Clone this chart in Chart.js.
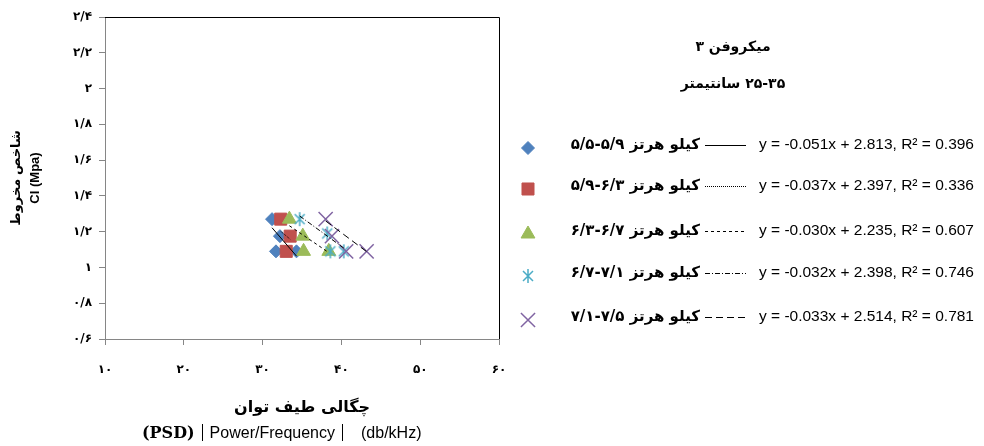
<!DOCTYPE html>
<html>
<head>
<meta charset="utf-8">
<script src="https://cdn.jsdelivr.net/npm/chart.js@4.4.0/dist/chart.umd.min.js"></script>
<style>
    body { margin: 0; background: #fff; }
    #wrap { position: relative; width: 984px; height: 446px; overflow: hidden; }
    #chart { position: absolute; left: 0; top: 0; }
    .fa { position: absolute; font-family: "DejaVu Sans"; font-weight: bold; color: #000; white-space: nowrap; direction: rtl; }
    .head { font-size: 14px; text-align: center; width: 200px; left: 633px; }
    .name { font-size: 15px; right: 284px; }
    .eq { position: absolute; left: 759px; font-family: "Liberation Sans"; font-size: 15.5px; color: #000; white-space: nowrap; }
    .xt1 { position: absolute; left: 102px; width: 400px; text-align: center; top: 397px; font-family: "DejaVu Sans"; font-weight: bold; font-size: 16px; direction: rtl; color: #000; white-space: nowrap; }
    .xt2 { position: absolute; left: 142px; top: 423px; font-family: "Liberation Sans"; font-size: 16px; color: #000; white-space: nowrap; }
    .xt2 b { font-family: "DejaVu Serif"; font-size: 16px; }
    .bar { display: inline-block; width: 1px; height: 17px; background: #000; vertical-align: -3px; margin: 0 7px; }
</style>
</head>
<body>
<div id="wrap">
    <canvas id="chart" width="984" height="446"></canvas>
    <div class="fa head" style="top:38px">میکروفن ۳</div>
    <div class="fa head" style="top:75px">۲۵-۳۵ سانتیمتر</div>
    <div class="xt1">چگالی طیف توان</div>
    <div class="xt2"><b>(PSD)</b><span class="bar"></span>Power/Frequency<span class="bar" style="margin-right:18px"></span>(db/kHz)</div>
    <div id="legendText"></div>
</div>
<script>
// بازه‌های فرکانسی (کیلو هرتز)
var rangeLabels = ['۵/۵-۵/۹', '۵/۹-۶/۳', '۶/۳-۶/۷', '۶/۷-۷/۱', '۷/۱-۷/۵'];

// چگالی طیف توان (db/kHz) و شاخص مخروط (Mpa) برای هر بازه
var psd1 = [31.2, 32.2, 31.7, 34.3];
var ci1 = [1.27, 1.175, 1.09, 1.09];
var psd2 = [32.3, 33.5, 33.0];
var ci2 = [1.27, 1.175, 1.09];
var psd3 = [33.4, 35.1, 35.2, 38.4];
var ci3 = [1.27, 1.175, 1.09, 1.09];
var psd4 = [34.7, 38.2, 38.6, 40.3];
var ci4 = [1.27, 1.19, 1.09, 1.09];
var psd5 = [38.0, 38.8, 40.6, 43.2];
var ci5 = [1.27, 1.175, 1.09, 1.09];

// خط روند خطی هر سری
var slopes = [-0.051, -0.037, -0.030, -0.032, -0.033];
var intercepts = [2.813, 2.397, 2.235, 2.398, 2.514];
var rSquared = [0.396, 0.336, 0.607, 0.746, 0.781];

var xTickLabels = ['۱۰', '۲۰', '۳۰', '۴۰', '۵۰', '۶۰'];
var yTickLabels = ['۰/۶', '۰/۸', '۱', '۱/۲', '۱/۴', '۱/۶', '۱/۸', '۲', '۲/۲', '۲/۴'];

var colors = ['#4F81BD', '#C0504D', '#9BBB59', '#4BACC6', '#8064A2'];
var dashes = [[], [1, 1], [3, 3], [5, 2, 1, 2], [7, 4]];
var legendY = [148, 189, 234, 276, 320];

// ستاره‌ی شش‌پر (علامت اکسل)
function asterisk(color) {
    var c = document.createElement('canvas');
    c.width = 16; c.height = 16;
    var g = c.getContext('2d');
    g.strokeStyle = color;
    g.lineWidth = 1.5;
    g.beginPath();
    g.moveTo(8, 1); g.lineTo(8, 15);
    g.moveTo(3, 3); g.lineTo(13, 13);
    g.moveTo(13, 3); g.lineTo(3, 13);
    g.stroke();
    return c;
}

var markers = [
    { pointStyle: 'rectRot', radius: 6.5 },
    { pointStyle: 'rect', radius: 8.5 },
    { pointStyle: 'triangle', radius: 8 },
    { pointStyle: asterisk(colors[3]), radius: 7 },
    { pointStyle: 'crossRot', radius: 10, borderWidth: 1.5 }
];

function points(xs, ys) {
    return xs.map(function (x, i) { return { x: x, y: ys[i] }; });
}

function trend(k, xs) {
    var lo = Math.min.apply(null, xs), hi = Math.max.apply(null, xs);
    return [
        { x: lo, y: slopes[k] * lo + intercepts[k] },
        { x: hi, y: slopes[k] * hi + intercepts[k] }
    ];
}

var series = [[psd1, ci1], [psd2, ci2], [psd3, ci3], [psd4, ci4], [psd5, ci5]];
var datasets = [];

series.forEach(function (s, k) {
    datasets.push({
        data: points(s[0], s[1]),
        pointStyle: markers[k].pointStyle,
        pointRadius: markers[k].radius,
        backgroundColor: colors[k],
        borderColor: colors[k],
        pointBorderWidth: markers[k].borderWidth || 1,
        showLine: false,
        order: 10 - k
    });
    datasets.push({
        data: trend(k, s[0]),
        showLine: true,
        pointRadius: 0,
        borderColor: '#000',
        borderWidth: 1,
        borderDash: dashes[k],
        fill: false,
        order: 0
    });
});

// کادر بالا و راست ناحیه‌ی نمودار + علامت‌های راهنما
var framePlugin = {
    id: 'frame',
    afterDraw: function (chart) {
        var ctx = chart.ctx, a = chart.chartArea;
        ctx.save();
        ctx.strokeStyle = '#000';
        ctx.lineWidth = 1;
        ctx.beginPath();
        ctx.moveTo(a.left, a.top + 0.5);
        ctx.lineTo(a.right + 0.5, a.top + 0.5);
        ctx.lineTo(a.right + 0.5, a.bottom);
        ctx.stroke();

        for (var k = 0; k < 5; k++) {
            ctx.fillStyle = colors[k];
            ctx.strokeStyle = colors[k];
            ctx.lineWidth = markers[k].borderWidth || 1;
            ctx.setLineDash([]);
            Chart.helpers.drawPoint(ctx, {
                pointStyle: markers[k].pointStyle,
                radius: markers[k].radius,
                rotation: 0,
                borderWidth: markers[k].borderWidth || 1
            }, 528, legendY[k]);

            ctx.strokeStyle = '#000';
            ctx.lineWidth = 1;
            ctx.setLineDash(dashes[k]);
            ctx.beginPath();
            ctx.moveTo(705, legendY[k] - 2.5);
            ctx.lineTo(746, legendY[k] - 2.5);
            ctx.stroke();
        }
        ctx.restore();
    }
};

var ctx = document.getElementById('chart').getContext('2d');
var chart = new Chart(ctx, {
    type: 'scatter',
    data: { datasets: datasets },
    options: {
        responsive: false,
        animation: false,
        layout: { padding: { left: 0, right: 485, top: 17, bottom: 0 } },
        plugins: { legend: { display: false }, tooltip: { enabled: false } },
        scales: {
            x: {
                type: 'linear',
                min: 10,
                max: 60,
                ticks: {
                    stepSize: 10,
                    padding: 18,
                    maxRotation: 0,
                    color: '#000',
                    font: { family: 'DejaVu Sans', weight: 'bold', size: 12 },
                    callback: function (v, i) { return xTickLabels[i]; }
                },
                grid: { drawOnChartArea: false, tickLength: 6, color: '#868686' },
                border: { color: '#868686' },
                afterFit: function (s) { s.height = 107; }
            },
            y: {
                type: 'linear',
                min: 0.6,
                max: 2.4,
                ticks: {
                    stepSize: 0.2,
                    padding: 7,
                    color: '#000',
                    font: { family: 'DejaVu Sans', weight: 'bold', size: 12 },
                    callback: function (v, i) { return yTickLabels[i]; }
                },
                grid: { drawOnChartArea: false, tickLength: 6, color: '#868686' },
                border: { color: '#868686' },
                title: {
                    display: true,
                    text: ['شاخص مخروط', 'CI (Mpa)'],
                    color: '#000',
                    font: { family: '"Liberation Sans", "DejaVu Sans"', weight: 'bold', size: 13, lineHeight: 1.45 },
                    padding: { top: 7, bottom: 0 }
                },
                afterFit: function (s) { s.width = 105; }
            }
        }
    },
    plugins: [framePlugin]
});

// متن راهنما
var box = document.getElementById('legendText');
rangeLabels.forEach(function (r, k) {
    var n = document.createElement('div');
    n.className = 'fa name';
    n.style.top = (legendY[k] - 13) + 'px';
    n.innerHTML = 'کیلو هرتز <bdi dir="ltr">' + r + '</bdi>';
    box.appendChild(n);

    var e = document.createElement('div');
    e.className = 'eq';
    e.style.top = (legendY[k] - 13) + 'px';
    e.textContent = 'y = ' + slopes[k].toFixed(3) + 'x + ' + intercepts[k].toFixed(3) + ', R² = ' + rSquared[k].toFixed(3);
    box.appendChild(e);
});
</script>
</body>
</html>
